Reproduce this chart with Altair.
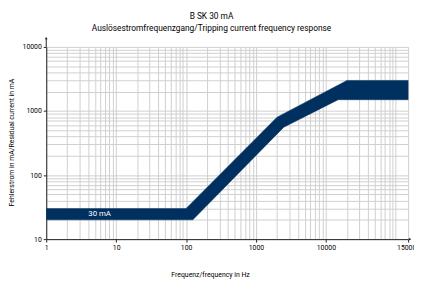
import altair as alt
import pandas as pd

# Band outline (upper edge left->right, then lower edge right->left)
band_freq = [1, 100, 2000, 20000, 150000, 150000, 15000, 2500, 125, 1]
band_current = [30, 30, 800, 3000, 3000, 1500, 1500, 560, 20, 20]
band_order = list(range(len(band_freq)))

label_text = ["30 mA"]
label_freq = [5.8]
label_current = [24.5]

x_labels = [1, 10, 100, 1000, 10000, 150000]
x_grid = [m * 10 ** e for e in range(0, 5) for m in range(1, 10)] + [100000, 150000]
y_labels = [10, 100, 1000, 10000]
y_grid = [m * 10 ** e for e in range(1, 4) for m in range(1, 10)] + [10000]

band = pd.DataFrame({"f": band_freq, "i": band_current, "o": band_order})
lab = pd.DataFrame({"f": label_freq, "i": label_current, "t": label_text})

FONT = "Roboto"
NAVY = "#00305f"
INK = "#000000"

x_test = " || ".join(f"datum.value == {v}" for v in x_labels)
y_test = " || ".join(f"datum.value == {v}" for v in y_labels)

xscale = alt.Scale(type="log", domain=[1, 150000], nice=False)
yscale = alt.Scale(type="log", domain=[10, 10000], nice=False)

xaxis = alt.Axis(
    values=x_grid,
    labelExpr=f"({x_test}) ? format(datum.value, 'd') : ''",
    grid=True, gridColor="#cfcfcf", gridWidth=1,
    domainColor="#222", domainWidth=1,
    tickSize=3, tickColor={"condition": {"test": x_test, "value": "#222"}, "value": "transparent"},
    labelFontSize=7, labelFont=FONT, labelColor=INK, labelPadding=2,
    labelFlush=False, labelOverlap=False, labelBound=False,
    title="Frequenz/frequency in Hz", titleFont=FONT, titleFontSize=7,
    titleFontWeight="normal", titleColor=INK,
    titleX=167, titleY=38, titleBaseline="alphabetic", titleAlign="center",
)
yaxis = alt.Axis(
    values=y_grid,
    labelExpr=f"({y_test}) ? format(datum.value, 'd') : ''",
    grid=True, gridColor="#cfcfcf", gridWidth=1,
    domainColor="#222", domainWidth=1,
    tickSize=3, tickColor={"condition": {"test": y_test, "value": "#222"}, "value": "transparent"},
    labelFontSize=7, labelFont=FONT, labelColor=INK, labelPadding=2,
    labelOverlap=False, labelBound=False, labelFlush=False,
    title="Fehlerstrom in mA/Residual current in mA", titleFont=FONT, titleFontSize=7,
    titleFontWeight="normal", titleColor=INK,
    titleAngle=270, titleX=-35, titleY=97, titleBaseline="middle", titleAlign="center",
)

poly = alt.Chart(band).mark_line(fill=NAVY, stroke=NAVY, strokeWidth=0.5).encode(
    x=alt.X("f:Q", scale=xscale, axis=xaxis),
    y=alt.Y("i:Q", scale=yscale, axis=yaxis),
    order="o:Q",
)

txt = alt.Chart(lab).mark_text(color="white", font=FONT, fontSize=8, baseline="middle").encode(
    x=alt.X("f:Q", scale=xscale),
    y=alt.Y("i:Q", scale=yscale),
    text="t:N",
)

# axis arrowheads
arrow_y = alt.Chart(pd.DataFrame({"a": [0]})).mark_rule(color="#222", strokeWidth=1).encode(
    x=alt.value(0), y=alt.value(-9), y2=alt.value(0))
arrow_y_head = alt.Chart(pd.DataFrame({"a": [0]})).mark_point(
    shape="triangle-up", filled=True, color="#222", size=8, opacity=1).encode(
    x=alt.value(0), y=alt.value(-9))
arrow_x_head = alt.Chart(pd.DataFrame({"a": [0]})).mark_point(
    shape="triangle-right", filled=True, color="#222", size=8, opacity=1).encode(
    x=alt.value(371), y=alt.value(196))

chart = alt.layer(poly, txt, arrow_y, arrow_y_head, arrow_x_head).properties(
    width=369, height=196,
    autosize=alt.AutoSizeParams(type="none"),
    padding={"left": 39, "top": 37, "right": 6, "bottom": 40},
    title=alt.TitleParams(
        text="B SK 30 mA",
        subtitle="Auslösestromfrequenzgang/Tripping current frequency response",
        font=FONT, fontSize=8.5, fontWeight="normal", color=INK,
        subtitleFont=FONT, subtitleFontSize=8.5, subtitleColor=INK,
        subtitlePadding=3, anchor="middle", dx=-16, offset=5,
    ),
).configure_view(stroke=None)

chart.save("out.html", embed_options={"renderer": "svg", "actions": False})
